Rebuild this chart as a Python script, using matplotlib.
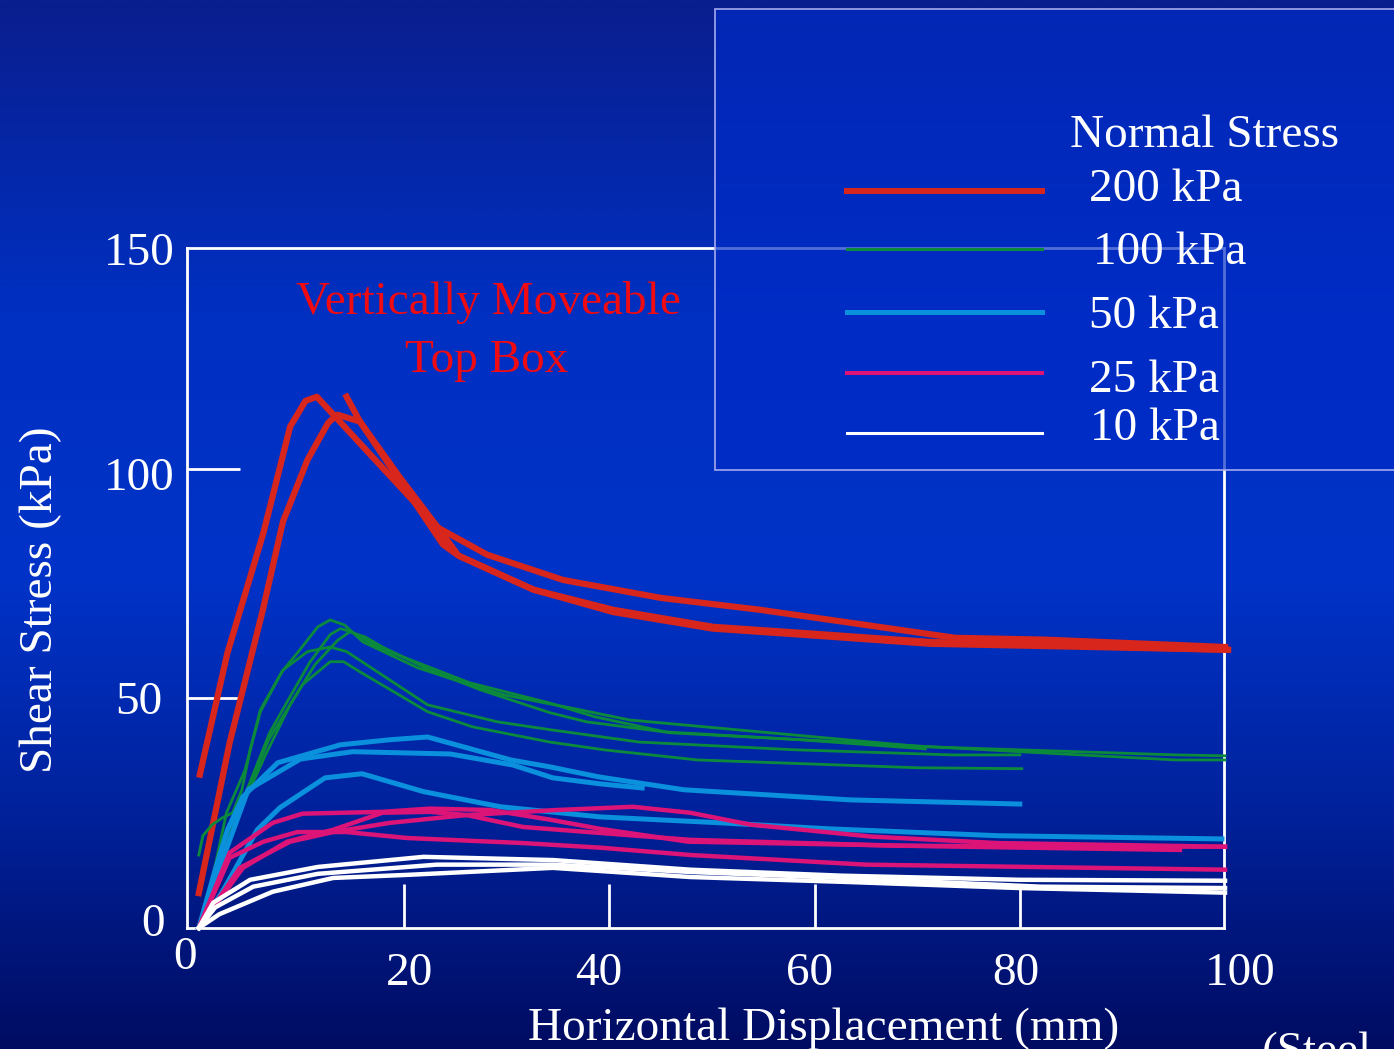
import numpy as np
import matplotlib
matplotlib.use("Agg")
import matplotlib.pyplot as plt
from matplotlib.colors import LinearSegmentedColormap
from matplotlib.patches import Rectangle
from matplotlib.lines import Line2D

W, H = 1394, 1049

# 200 kPa
red1_x = [0.1, 2.8, 6.3, 8.9, 10.4, 11.5, 23.3, 28.1, 35.5, 45.0, 54.7, 65.6, 73.7, 82.4, 100]
red1_y = [33.4, 60.0, 86.1, 109.2, 114.8, 115.7, 87.2, 81.3, 75.8, 71.9, 69.3, 65.8, 63.2, 62.8, 61.2]
red2_x = [0, 3.0, 6.2, 8.2, 10.6, 12.6, 13.5, 15.7, 23.8, 25.3, 32.6, 40.4, 50.1, 58.6, 71.3, 84.8, 100]
red2_y = [7.6, 40.3, 68.9, 88.5, 102.0, 110.0, 111.8, 110.3, 83.5, 81.1, 73.7, 69.3, 65.6, 64.3, 62.3, 61.5, 60.6]
red3_x = [14.4, 15.7, 19.6, 23.3, 25.3, 32.6, 40.4, 50.1, 58.6, 71.3, 84.8, 100.3]
red3_y = [115.7, 110.3, 98.1, 87.2, 81.1, 73.7, 68.8, 65.2, 63.9, 61.9, 61.3, 60.6]

# 100 kPa
green1_x = [0, 1.3, 2.7, 4.5, 6.0, 8.1, 9.6, 11.6, 12.8, 14.2, 16.0, 21.3, 25.8, 29.7, 37.2, 42.0, 57.7, 70.4, 80.0, 95.2, 100]
green1_y = [0, 10.5, 25.1, 34.4, 47.1, 55.8, 59.9, 65.6, 67.1, 66.0, 62.3, 56.7, 53.4, 50.8, 47.5, 45.3, 42.1, 39.5, 38.8, 37.7, 37.5]
green2_x = [0, 1.6, 3.2, 4.8, 6.9, 8.9, 10.8, 12.8, 13.8, 14.9, 17.4, 21.9, 26.4, 34.2, 38.6, 45.5, 58.6, 70.8]
green2_y = [0, 10.5, 20.7, 30.7, 42.5, 50.4, 57.8, 63.9, 65.2, 64.5, 61.2, 57.3, 53.4, 49.0, 46.0, 42.7, 41.0, 39.0]
green3_x = [0, 1.1, 2.6, 4.5, 6.5, 8.9, 11.3, 13.5, 14.7, 16.2, 17.9, 22.5, 27.4, 34.2, 37.8, 46.1, 64.7, 80.0, 95.2, 100]
green3_y = [0, 7.2, 17.0, 27.9, 37.7, 48.6, 57.3, 62.6, 64.5, 63.4, 61.2, 56.2, 51.9, 46.9, 44.9, 42.5, 40.3, 38.4, 36.6, 36.6]
green4_x = [0, 0.4, 1.3, 2.3, 3.3, 4.2, 5.0, 6.0, 8.2, 10.6, 12.8, 14.4, 22.3, 29.1, 34.2, 42.9, 58.2, 73.4, 80]
green4_y = [15.9, 20.1, 22.5, 24.0, 25.1, 30.1, 38.8, 47.5, 56.2, 60.2, 61.2, 60.2, 48.6, 44.9, 43.2, 40.5, 38.8, 37.7, 37.7]
green5_x = [0, 1.6, 3.0, 4.7, 6.8, 10.1, 12.8, 14.1, 15.7, 22.3, 26.7, 34.2, 39.5, 48.6, 70.0, 80.2]
green5_y = [0, 11.6, 20.3, 29.4, 41.0, 53.0, 58.0, 58.0, 55.8, 47.1, 43.8, 40.5, 38.8, 36.6, 34.9, 34.7]

# 50 kPa
cyan1_x = [0, 1.6, 2.8, 4.3, 7.7, 13.8, 18.6, 22.3, 26.2, 30.4, 34.2, 39.0, 47.3, 63.5, 80.0]
cyan1_y = [0, 12.7, 21.4, 28.6, 36.0, 39.9, 41.0, 41.6, 39.2, 36.6, 35.1, 32.9, 30.1, 27.9, 27.0]
cyan2_x = [0, 2.3, 4.8, 9.9, 15.0, 24.5, 30.6, 34.5, 39.1, 43.2]
cyan2_y = [0, 14.8, 30.1, 36.8, 38.4, 37.9, 35.5, 32.7, 31.4, 30.5]
cyan3_x = [0, 2.4, 5.7, 7.9, 12.3, 15.9, 21.9, 29.4, 39.1, 50.9, 61.4, 77.9, 99.7]
cyan3_y = [0, 8.3, 21.4, 26.2, 32.7, 33.6, 29.7, 26.4, 24.2, 22.9, 21.6, 20.1, 19.4]

# 25 kPa
mag1_x = [0, 4.0, 8.9, 13.1, 18.6, 26.1, 34.9, 42.3, 47.9, 53.8, 65.6, 77.8, 100]
mag1_y = [0, 13.1, 18.8, 20.9, 22.9, 24.6, 25.7, 26.4, 25.1, 22.5, 19.9, 18.5, 17.7]
mag2_x = [0, 3.0, 7.2, 10.1, 17.9, 22.5, 28.4, 34.2, 39.1, 47.7, 74.4, 95.6]
mag2_y = [0, 16.4, 22.9, 24.9, 25.3, 26.0, 25.7, 23.6, 21.6, 18.8, 17.7, 17.0]
mag3_x = [0, 3.0, 6.3, 9.6, 14.4, 20.3, 31.6, 39.1, 47.9, 65.0, 100]
mag3_y = [0, 15.3, 18.8, 20.9, 20.9, 19.6, 18.5, 17.5, 15.9, 13.8, 12.7]
mag4_x = [0, 4.3, 8.6, 13.1, 17.9, 22.5, 26.1, 31.6, 39.1, 47.9, 68.3, 100]
mag4_y = [0, 13.1, 18.8, 21.4, 25.1, 25.3, 24.6, 22.0, 20.7, 19.2, 17.9, 17.7]

# 10 kPa
white1_x = [0, 1.4, 5.0, 11.6, 21.9, 34.5, 47.9, 62.6, 80, 100]
white1_y = [0, 5.5, 10.5, 13.3, 15.5, 14.8, 12.7, 11.4, 10.5, 10.3]
white2_x = [0, 1.6, 5.3, 11.6, 23.2, 34.5, 47.9, 65, 82, 100]
white2_y = [0, 4.5, 9.0, 11.8, 13.8, 13.8, 12.2, 10.7, 9.0, 8.7]
white3_x = [0, 2.0, 7.2, 13.1, 20.6, 34.5, 47.9, 63.5, 80, 100]
white3_y = [0, 3.0, 7.9, 10.9, 11.6, 13.1, 11.1, 10.0, 8.7, 7.7]

legend_labels = ["200 kPa", "100 kPa", "50 kPa", "25 kPa", "10 kPa"]
xtick_vals = [20, 40, 60, 80]
ytick_vals = [50, 100]

RED = "#d8261c"
GREEN = "#0c8a3c"
CYAN = "#0a90dc"
MAGENTA = "#dc1478"
WHITE = "#ffffff"
SERIF = ["Liberation Serif", "DejaVu Serif"]

fig = plt.figure(figsize=(W / 100, H / 100), dpi=100)

# background gradient
bg = fig.add_axes([0, 0, 1, 1])
bg.set_zorder(-10)
cmap = LinearSegmentedColormap.from_list(
    "bg", [(0, "#0a1e8e"), (0.3, "#0030c2"), (0.55, "#0033c8"), (0.78, "#00219a"), (1, "#000c62")])
bg.imshow(np.linspace(0, 1, 512).reshape(-1, 1), aspect="auto", cmap=cmap,
          extent=[0, 1, 0, 1], origin="upper")
bg.axis("off")

ax = fig.add_axes([187 / W, 1 - 928 / H, (1224 - 187) / W, (928 - 248) / H])
ax.set_facecolor("none")
ax.set_xlim(-1.15, 99.9)
ax.set_ylim(0, 148.1)

for x, y in [(red1_x, red1_y), (red2_x, red2_y), (red3_x, red3_y)]:
    ax.plot(x, y, color=RED, lw=4.5, clip_on=False, zorder=3)
for x, y in [(green1_x, green1_y), (green2_x, green2_y), (green3_x, green3_y),
             (green4_x, green4_y), (green5_x, green5_y)]:
    ax.plot(x, y, color=GREEN, lw=2.0, clip_on=False, zorder=3)
for x, y in [(cyan1_x, cyan1_y), (cyan2_x, cyan2_y), (cyan3_x, cyan3_y)]:
    ax.plot(x, y, color=CYAN, lw=3.6, clip_on=False, zorder=3)
for x, y in [(mag1_x, mag1_y), (mag2_x, mag2_y), (mag3_x, mag3_y), (mag4_x, mag4_y)]:
    ax.plot(x, y, color=MAGENTA, lw=3.2, clip_on=False, zorder=3)
for x, y in [(white1_x, white1_y), (white2_x, white2_y), (white3_x, white3_y)]:
    ax.plot(x, y, color=WHITE, lw=3.2, clip_on=False, zorder=3)

for sp in ax.spines.values():
    sp.set_color("white")
    sp.set_linewidth(2)
ax.set_xticks(xtick_vals)
ax.set_yticks(ytick_vals)
ax.tick_params(axis="x", direction="in", length=32, width=2, color="white", labelbottom=False)
ax.tick_params(axis="y", direction="in", length=38, width=2, color="white", labelleft=False)


def ftext(x, y, s, size=34, color="white", **kw):
    fig.text(x / W, 1 - y / H, s, color=color, fontsize=size, family=SERIF, zorder=8, **kw)


# tick labels
for v, yb in zip([150, 100, 50], [265, 490, 714]):
    ftext(139, yb, str(v), ha="center", va="baseline")
ftext(153, 936, "0", ha="center", va="baseline")
ftext(185, 969, "0", ha="center", va="baseline")
for v, xc in zip([20, 40, 60, 80, 100], [409, 599, 809, 1016, 1240]):
    ftext(xc, 985, str(v), ha="center", va="baseline")

ftext(824, 1040, "Horizontal Displacement (mm)", ha="center", va="baseline")
ftext(52, 600, "Shear Stress (kPa)", ha="center", va="baseline", rotation=90, rotation_mode="anchor")
# source note, cut by the right/bottom edge as in the original slide
ftext(1262, 1064, "(Steel", ha="left", va="baseline")

ftext(488, 314, "Vertically Moveable", color="#f00a12", ha="center", va="baseline")
ftext(487, 372, "Top Box", color="#f00a12", ha="center", va="baseline")

# legend box
fig.add_artist(Rectangle((715 / W, 1 - 470 / H), (W - 715 + 10) / W, (470 - 9) / H,
                         transform=fig.transFigure, facecolor=(0.0, 0.17, 0.78, 0.68),
                         edgecolor="#a4aaee", lw=1.2, zorder=5))
ftext(1070, 147, "Normal Stress", ha="left", va="baseline")
leg_colors = [RED, GREEN, CYAN, MAGENTA, WHITE]
leg_widths = [4.3, 2.2, 3.6, 2.9, 2.2]
leg_line_y = [191, 249, 312, 373, 433]
leg_text_x = [1089, 1093, 1089, 1089, 1090]
leg_text_y = [201, 264, 328, 392, 440]
for lab, c, lw, ly, tx, ty in zip(legend_labels, leg_colors, leg_widths, leg_line_y, leg_text_x, leg_text_y):
    fig.add_artist(Line2D([847 / W, 1042 / W], [1 - ly / H] * 2, color=c, lw=lw,
                          transform=fig.transFigure, zorder=6))
    ftext(tx, ty, lab, ha="left", va="baseline")

fig.savefig("out.png", dpi=100)
